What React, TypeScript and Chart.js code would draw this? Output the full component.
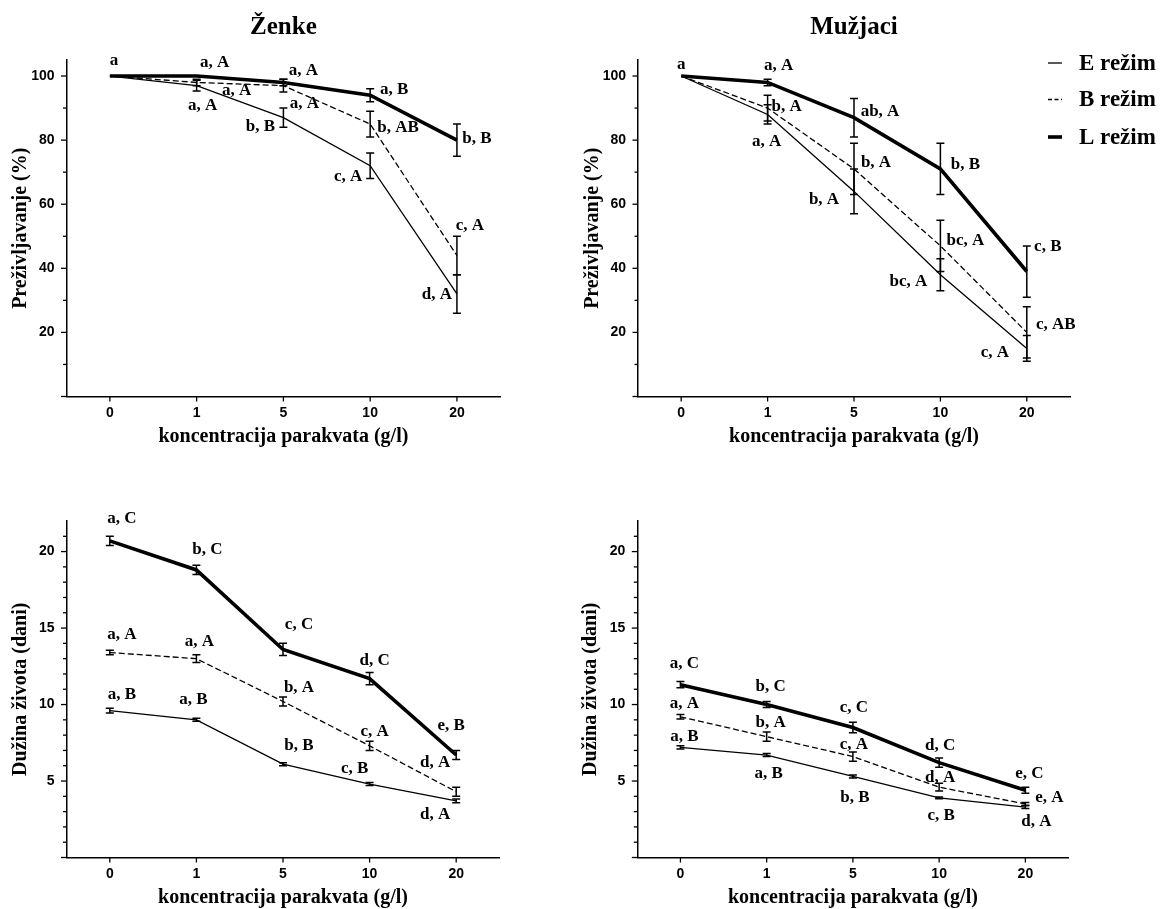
import React, { useEffect, useRef } from 'react';
import { Chart, registerables } from 'chart.js';

Chart.register(...registerables);

// ---------------- DATA ----------------
const concentrationLabels = ['0', '1', '5', '10', '20'];
const regimeNames = ['E režim', 'B režim', 'L režim'];

const survivalTicks = [20, 40, 60, 80, 100];
const lifespanTicks = [5, 10, 15, 20];

// Ženke – preživljavanje (%)
const survFemaleE = [100, 97, 87, 72, 32];
const survFemaleEErr = [0, 1.7, 3, 4, 6];
const survFemaleELabels = ['', 'a, A', 'b, B', 'c, A', 'd, A'];
const survFemaleB = [100, 98, 97, 85, 44];
const survFemaleBErr = [0, 1, 2, 4, 6];
const survFemaleBLabels = ['', 'a, A', 'a, A', 'b, AB', 'c, A'];
const survFemaleL = [100, 100, 98, 94, 80];
const survFemaleLErr = [0, 0, 1, 2, 5];
const survFemaleLLabels = ['a', 'a, A', 'a, A', 'a, B', 'b, B'];

// Mužjaci – preživljavanje (%)
const survMaleE = [100, 88, 64, 38, 15];
const survMaleEErr = [0, 3, 7, 5, 4];
const survMaleELabels = ['', 'a, A', 'b, A', 'bc, A', 'c, A'];
const survMaleB = [100, 90, 71, 47, 20];
const survMaleBErr = [0, 4, 8, 8, 8];
const survMaleBLabels = ['', 'b, A', 'b, A', 'bc, A', 'c, AB'];
const survMaleL = [100, 98, 87, 71, 39];
const survMaleLErr = [0, 1, 6, 8, 8];
const survMaleLLabels = ['a', 'a, A', 'ab, A', 'b, B', 'c, B'];

// Ženke – dužina života (dani)
const lifeFemaleE = [9.6, 9.0, 6.1, 4.8, 3.7];
const lifeFemaleEErr = [0.15, 0.1, 0.1, 0.1, 0.12];
const lifeFemaleELabels = ['a, B', 'a, B', 'b, B', 'c, B', 'd, A'];
const lifeFemaleB = [13.4, 13.0, 10.2, 7.3, 4.3];
const lifeFemaleBErr = [0.15, 0.25, 0.3, 0.3, 0.3];
const lifeFemaleBLabels = ['a, A', 'a, A', 'b, A', 'c, A', 'd, A'];
const lifeFemaleL = [20.7, 18.8, 13.6, 11.7, 6.7];
const lifeFemaleLErr = [0.3, 0.3, 0.4, 0.4, 0.3];
const lifeFemaleLLabels = ['a, C', 'b, C', 'c, C', 'd, C', 'e, B'];

// Mužjaci – dužina života (dani)
const lifeMaleE = [7.2, 6.7, 5.3, 3.9, 3.3];
const lifeMaleEErr = [0.1, 0.1, 0.1, 0.06, 0.1];
const lifeMaleELabels = ['a, B', 'a, B', 'b, B', 'c, B', 'd, A'];
const lifeMaleB = [9.2, 7.9, 6.6, 4.6, 3.5];
const lifeMaleBErr = [0.15, 0.3, 0.3, 0.25, 0.1];
const lifeMaleBLabels = ['a, A', 'b, A', 'c, A', 'd, A', 'e, A'];
const lifeMaleL = [11.3, 10.0, 8.5, 6.2, 4.4];
const lifeMaleLErr = [0.2, 0.2, 0.35, 0.3, 0.2];
const lifeMaleLLabels = ['a, C', 'b, C', 'c, C', 'd, C', 'e, C'];

// ---------------- STYLE / LAYOUT ----------------
const SERIF = "'Liberation Serif', 'Times New Roman', serif";
const SANS = "'Liberation Sans', Arial, sans-serif";

const regimeStyles = [
  { width: 1.3, dash: [] as number[], legendDash: [] as number[] },
  { width: 1.3, dash: [6, 3], legendDash: [4, 2.5] },
  { width: 3.6, dash: [] as number[], legendDash: [] as number[] },
];

type Off = [number, number] | null;

// label offsets (px) from each point, per series E, B, L
const offsetsSurvFemale: Off[][] = [
  [null, [6, 20], [-23, 9], [-22, 11], [-20, 1]],
  [null, [40, 8], [21, 18], [28, 4], [13, -30]],
  [[4, -15], [18, -13], [20, -12], [24, -6], [20, -2]],
];
const offsetsSurvMale: Off[][] = [
  [null, [-1, 27], [-30, 8], [-32, 7], [-32, 4]],
  [null, [19, -1], [22, -6], [25, -5], [29, -8]],
  [[0, -11], [11, -17], [26, -6], [25, -4], [21, -25]],
];
const offsetsLifeFemale: Off[][] = [
  [[12, -16], [-3, -20], [16, -19], [-15, -15], [-21, 14]],
  [[12, -18], [3, -17], [16, -14], [5, -14], [-21, -29]],
  [[12, -22], [11, -20], [16, -25], [5, -18], [-5, -29]],
];
const offsetsLifeMale: Off[][] = [
  [[4, -11], [2, 19], [2, 21], [2, 18], [11, 15]],
  [[4, -13], [4, -14], [1, -12], [1, -10], [24, -6]],
  [[4, -21], [4, -18], [1, -20], [1, -17], [4, -17]],
];

type Series = { values: number[]; errors: number[]; labels: string[]; offsets: Off[] };

type Panel = {
  key: string;
  left: number;
  top: number;
  width: number;
  height: number;
  title?: string;
  titleY?: number;
  yTitle: string;
  xTitle: string;
  yMax: number;
  yTicks: number[];
  tickMax: number;
  majorStep: number;
  minorStep: number;
  area: { left: number; top: number; right: number; bottom: number };
  yTitleX: number;
  xTitleY: number;
  legend?: boolean;
  series: Series[];
};

const mk = (v: number[], e: number[], l: string[], o: Off[]): Series => ({ values: v, errors: e, labels: l, offsets: o });

// all layout numbers below are relative to each panel's canvas, except titleY / xTitleY (page coords)
const panels: Panel[] = [
  {
    key: 'tl', left: 0, top: 0, width: 580, height: 455,
    title: 'Ženke', titleY: 28,
    yTitle: 'Preživljavanje (%)', xTitle: 'koncentracija parakvata (g/l)',
    yMax: 105, yTicks: survivalTicks, tickMax: 100, majorStep: 20, minorStep: 10,
    area: { left: 66.5, top: 60, right: 500.3, bottom: 396.5 },
    yTitleX: 20.5, xTitleY: 437,
    series: [
      mk(survFemaleE, survFemaleEErr, survFemaleELabels, offsetsSurvFemale[0]),
      mk(survFemaleB, survFemaleBErr, survFemaleBLabels, offsetsSurvFemale[1]),
      mk(survFemaleL, survFemaleLErr, survFemaleLLabels, offsetsSurvFemale[2]),
    ],
  },
  {
    key: 'tr', left: 580, top: 0, width: 583, height: 455,
    title: 'Mužjaci', titleY: 28,
    yTitle: 'Preživljavanje (%)', xTitle: 'koncentracija parakvata (g/l)',
    yMax: 105, yTicks: survivalTicks, tickMax: 100, majorStep: 20, minorStep: 10,
    area: { left: 58, top: 60, right: 490, bottom: 396.5 },
    yTitleX: 13, xTitleY: 437, legend: true,
    series: [
      mk(survMaleE, survMaleEErr, survMaleELabels, offsetsSurvMale[0]),
      mk(survMaleB, survMaleBErr, survMaleBLabels, offsetsSurvMale[1]),
      mk(survMaleL, survMaleLErr, survMaleLLabels, offsetsSurvMale[2]),
    ],
  },
  {
    key: 'bl', left: 0, top: 455, width: 580, height: 454,
    yTitle: 'Dužina života (dani)', xTitle: 'koncentracija parakvata (g/l)',
    yMax: 22, yTicks: lifespanTicks, tickMax: 21, majorStep: 5, minorStep: 1,
    area: { left: 66.5, top: 66, right: 499.5, bottom: 402.5 },
    yTitleX: 20.5, xTitleY: 898,
    series: [
      mk(lifeFemaleE, lifeFemaleEErr, lifeFemaleELabels, offsetsLifeFemale[0]),
      mk(lifeFemaleB, lifeFemaleBErr, lifeFemaleBLabels, offsetsLifeFemale[1]),
      mk(lifeFemaleL, lifeFemaleLErr, lifeFemaleLLabels, offsetsLifeFemale[2]),
    ],
  },
  {
    key: 'br', left: 580, top: 455, width: 583, height: 454,
    yTitle: 'Dužina života (dani)', xTitle: 'koncentracija parakvata (g/l)',
    yMax: 22, yTicks: lifespanTicks, tickMax: 21, majorStep: 5, minorStep: 1,
    area: { left: 57.3, top: 66, right: 488.5, bottom: 402.5 },
    yTitleX: 11, xTitleY: 898,
    series: [
      mk(lifeMaleE, lifeMaleEErr, lifeMaleELabels, offsetsLifeMale[0]),
      mk(lifeMaleB, lifeMaleBErr, lifeMaleBLabels, offsetsLifeMale[1]),
      mk(lifeMaleL, lifeMaleLErr, lifeMaleLLabels, offsetsLifeMale[2]),
    ],
  },
];

const legendLayout = { lineX1: 468, lineX2: 482, textX: 499, rows: [63, 99.5, 137], fontSize: 23 };

// ---------------- CHART CONFIG ----------------
function buildConfig(p: Panel): any {
  const a = p.area;

  const axisTicks = {
    id: 'axisTicks',
    afterDraw(chart: any) {
      const { ctx } = chart;
      const ys = chart.scales.y;
      const xs = chart.scales.x;
      const ca = chart.chartArea;
      ctx.save();
      ctx.strokeStyle = '#000';
      ctx.lineWidth = 1.3;
      const n = Math.round(p.tickMax / p.minorStep);
      for (let k = 0; k <= n; k++) {
        const v = k * p.minorStep;
        const py = ys.getPixelForValue(v);
        const major = Math.abs(v / p.majorStep - Math.round(v / p.majorStep)) < 1e-6;
        const len = major ? 5.5 : 3.5;
        ctx.beginPath();
        ctx.moveTo(ca.left - len, py);
        ctx.lineTo(ca.left, py);
        ctx.stroke();
      }
      concentrationLabels.forEach((_, i) => {
        const px = xs.getPixelForValue(i);
        ctx.beginPath();
        ctx.moveTo(px, ca.bottom);
        ctx.lineTo(px, ca.bottom + 5);
        ctx.stroke();
      });
      ctx.restore();
    },
  };

  const errorBars = {
    id: 'errorBars',
    afterDatasetsDraw(chart: any) {
      const { ctx } = chart;
      const ys = chart.scales.y;
      const xs = chart.scales.x;
      ctx.save();
      ctx.strokeStyle = '#000';
      ctx.lineWidth = 1.5;
      ctx.setLineDash([]);
      p.series.forEach((s) => {
        s.values.forEach((v, i) => {
          const e = s.errors[i];
          if (!e) return;
          const px = xs.getPixelForValue(i);
          const t = ys.getPixelForValue(v + e);
          const b = ys.getPixelForValue(v - e);
          ctx.beginPath();
          ctx.moveTo(px, t);
          ctx.lineTo(px, b);
          ctx.moveTo(px - 4, t);
          ctx.lineTo(px + 4, t);
          ctx.moveTo(px - 4, b);
          ctx.lineTo(px + 4, b);
          ctx.stroke();
        });
      });
      ctx.restore();
    },
  };

  const pointLabels = {
    id: 'pointLabels',
    afterDraw(chart: any) {
      const { ctx } = chart;
      const ys = chart.scales.y;
      const xs = chart.scales.x;
      ctx.save();
      ctx.fillStyle = '#000';
      ctx.font = `bold 17px ${SERIF}`;
      ctx.textAlign = 'center';
      ctx.textBaseline = 'middle';
      p.series.forEach((s) => {
        s.labels.forEach((txt, i) => {
          const off = s.offsets[i];
          if (!txt || !off) return;
          const px = xs.getPixelForValue(i);
          const py = ys.getPixelForValue(s.values[i]);
          ctx.fillText(txt, px + off[0], py + off[1]);
        });
      });
      ctx.restore();
    },
  };

  const regimeLegend = {
    id: 'regimeLegend',
    afterDraw(chart: any) {
      if (!p.legend) return;
      const { ctx } = chart;
      ctx.save();
      ctx.strokeStyle = '#000';
      ctx.fillStyle = '#000';
      ctx.font = `bold ${legendLayout.fontSize}px ${SERIF}`;
      ctx.textAlign = 'left';
      ctx.textBaseline = 'middle';
      chart.data.datasets.forEach((ds: any, i: number) => {
        const y = legendLayout.rows[i] - p.top;
        ctx.lineWidth = regimeStyles[i].width;
        ctx.setLineDash(regimeStyles[i].legendDash);
        ctx.beginPath();
        ctx.moveTo(legendLayout.lineX1, y);
        ctx.lineTo(legendLayout.lineX2, y);
        ctx.stroke();
        ctx.setLineDash([]);
        ctx.fillText(ds.label, legendLayout.textX, y + 1);
      });
      ctx.restore();
    },
  };

  const titleRelY = (p.titleY ?? 0) - p.top;
  const xTitleRelY = p.xTitleY - p.top;

  return {
    type: 'line',
    data: {
      labels: concentrationLabels,
      datasets: p.series.map((s, i) => ({
        label: regimeNames[i],
        data: s.values,
        borderColor: '#000',
        backgroundColor: '#000',
        borderWidth: regimeStyles[i].width,
        borderDash: regimeStyles[i].dash,
        borderJoinStyle: 'miter',
        pointRadius: 0,
        pointHoverRadius: 0,
        tension: 0,
        fill: false,
      })),
    },
    options: {
      responsive: false,
      maintainAspectRatio: false,
      animation: false,
      events: [],
      layout: {
        padding: { left: 0, top: p.title ? 0 : a.top, right: p.width - a.right, bottom: 0 },
      },
      plugins: {
        legend: { display: false },
        tooltip: { enabled: false },
        title: p.title
          ? {
              display: true,
              text: p.title,
              color: '#000',
              fullSize: false,
              font: { family: SERIF, size: 25, weight: 'bold', lineHeight: 1 },
              padding: { top: titleRelY - 12.5, bottom: a.top - (titleRelY + 12.5) },
            }
          : { display: false },
      },
      scales: {
        x: {
          type: 'category',
          offset: true,
          grid: { display: false, drawTicks: false },
          border: { display: true, color: '#000', width: 1.5 },
          ticks: {
            color: '#000',
            font: { family: SANS, size: 14, weight: 'bold' },
            padding: 8,
            maxRotation: 0,
            autoSkip: false,
          },
          title: {
            display: true,
            text: p.xTitle,
            color: '#000',
            font: { family: SERIF, size: 20, weight: 'bold', lineHeight: 1 },
            padding: { top: 0, bottom: Math.max(0, p.height - xTitleRelY - 10) },
          },
          afterFit: (s: any) => {
            s.height = p.height - a.bottom;
          },
        },
        y: {
          type: 'linear',
          min: 0,
          max: p.yMax,
          grid: { display: false, drawTicks: false },
          border: { display: true, color: '#000', width: 1.5 },
          ticks: {
            color: '#000',
            font: { family: SANS, size: 14, weight: 'bold' },
            padding: 12,
            callback: (v: any) => String(v),
          },
          afterBuildTicks: (s: any) => {
            s.ticks = p.yTicks.map((v) => ({ value: v }));
          },
          title: {
            display: true,
            text: p.yTitle,
            color: '#000',
            font: { family: SERIF, size: 20, weight: 'bold', lineHeight: 1 },
            padding: { top: p.yTitleX - 10, bottom: 0 },
          },
          afterFit: (s: any) => {
            s.width = a.left;
          },
        },
      },
    },
    plugins: [errorBars, axisTicks, pointLabels, regimeLegend],
  };
}

function ChartPanel({ panel }: { panel: Panel }) {
  const ref = useRef<HTMLCanvasElement>(null);
  useEffect(() => {
    if (!ref.current) return;
    const chart = new Chart(ref.current, buildConfig(panel));
    return () => chart.destroy();
  }, [panel]);
  return (
    <canvas
      ref={ref}
      width={panel.width}
      height={panel.height}
      style={{ position: 'absolute', left: panel.left, top: panel.top, width: panel.width, height: panel.height }}
    />
  );
}

export default function App() {
  return (
    <div
      style={{
        position: 'absolute',
        left: 0,
        top: 0,
        width: 1163,
        height: 909,
        background: '#fff',
        overflow: 'hidden',
      }}
    >
      {panels.map((p) => (
        <ChartPanel key={p.key} panel={p} />
      ))}
    </div>
  );
}
